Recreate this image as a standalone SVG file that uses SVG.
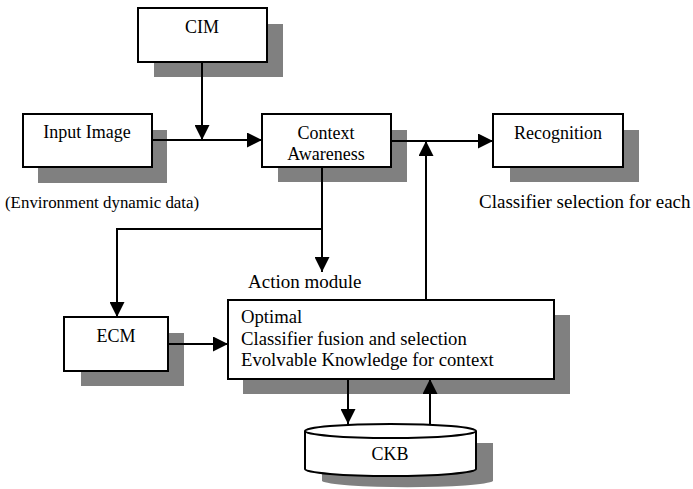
<svg xmlns="http://www.w3.org/2000/svg" width="693" height="489" viewBox="0 0 693 489">
  <style>
    .shadow { fill: #808080; stroke: none; }
    .box { fill: #ffffff; stroke: #000000; stroke-width: 2; }
    .txt { font-family: "Liberation Serif", "Times New Roman", serif; font-size: 18px; fill: #000000; }
    .mid { text-anchor: middle; }
    .wire { fill: none; stroke: #000000; stroke-width: 2; }
  </style>
  <defs>
    <marker id="arrow" markerUnits="userSpaceOnUse" markerWidth="15" markerHeight="15" refX="15" refY="7.5" orient="auto">
      <path d="M0,0 L15,7.5 L0,15 z" fill="#000000"/>
    </marker>
  </defs>
  <rect width="693" height="489" fill="#ffffff"/>

  <g id="cim">
    <rect class="shadow" x="154" y="24" width="129" height="53"/>
    <rect class="box" x="138" y="8" width="129" height="54"/>
    <text class="txt mid" x="202" y="33">CIM</text>
  </g>

  <g id="input-image">
    <rect class="shadow" x="38" y="130" width="129" height="53"/>
    <rect class="box" x="23" y="114" width="129" height="53"/>
    <text class="txt mid" x="87" y="138">Input Image</text>
  </g>

  <g id="context-awareness">
    <rect class="shadow" x="278" y="130" width="129" height="52"/>
    <rect class="box" x="262" y="114" width="129" height="53"/>
    <text class="txt mid" x="326" y="139">Context</text>
    <text class="txt mid" x="326" y="160">Awareness</text>
  </g>

  <g id="recognition">
    <rect class="shadow" x="510" y="130" width="129" height="52"/>
    <rect class="box" x="493" y="114" width="130" height="53"/>
    <text class="txt mid" x="558" y="139">Recognition</text>
  </g>

  <g id="ecm">
    <rect class="shadow" x="81" y="333" width="103" height="53"/>
    <rect class="box" x="64" y="317" width="104" height="54"/>
    <text class="txt mid" x="116" y="342">ECM</text>
  </g>

  <g id="action-module">
    <rect class="shadow" x="243" y="315" width="327" height="79"/>
    <rect class="box" x="228" y="300" width="326" height="79"/>
    <text class="txt" x="241" y="323" style="font-size:18.7px">Optimal</text>
    <text class="txt" x="241" y="345" style="font-size:18.7px">Classifier fusion and selection</text>
    <text class="txt" x="241" y="366" style="font-size:18.7px">Evolvable Knowledge for context</text>
  </g>

  <g id="ckb">
    <path class="shadow" d="M322,443 L493,443 L493,481 A86,7 0 0 1 322,481 Z"/>
    <path class="box" d="M305,431 L305,469 A85.5,7 0 0 0 476,469 L476,431"/>
    <ellipse class="box" cx="390.5" cy="431" rx="85.5" ry="7"/>
    <text class="txt mid" x="390" y="460">CKB</text>
  </g>

  <g id="labels">
    <text class="txt" x="5" y="208" style="font-size:16.9px">(Environment dynamic data)</text>
    <text class="txt" x="479" y="208" style="font-size:19px">Classifier selection for each</text>
    <text class="txt" x="248" y="288" style="font-size:19px">Action  module</text>
  </g>

  <g id="connectors">
    <line class="wire" x1="202" y1="62" x2="202" y2="140" marker-end="url(#arrow)"/>
    <line class="wire" x1="152" y1="140" x2="262" y2="140" marker-end="url(#arrow)"/>
    <line class="wire" x1="391" y1="141" x2="493" y2="141" marker-end="url(#arrow)"/>
    <line class="wire" x1="426" y1="300" x2="426" y2="141" marker-end="url(#arrow)"/>
    <line class="wire" x1="322" y1="167" x2="322" y2="272" marker-end="url(#arrow)"/>
    <polyline class="wire" points="322,229 117,229 117,317" marker-end="url(#arrow)"/>
    <line class="wire" x1="168" y1="344" x2="228" y2="344" marker-end="url(#arrow)"/>
    <line class="wire" x1="348" y1="379" x2="348" y2="424" marker-end="url(#arrow)"/>
    <line class="wire" x1="430" y1="424" x2="430" y2="379" marker-end="url(#arrow)"/>
  </g>
</svg>
